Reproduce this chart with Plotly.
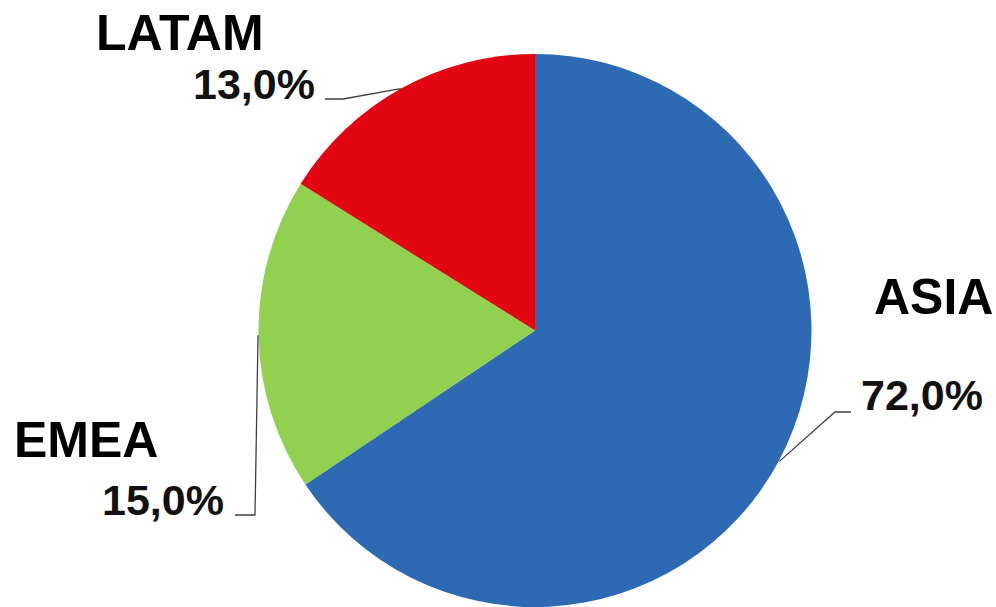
import math
import plotly.graph_objects as go

# Data (slice sizes as drawn, and printed labels)
regions = ["ASIA", "EMEA", "LATAM"]
slice_values = [65.6, 18.3, 16.1]
pct_labels = ["72,0%", "15,0%", "13,0%"]
colors = ["#2E6AB3", "#92D050", "#E20613"]

W, H = 996, 607
CX, CY, R = 535, 331, 277

def px(x):
    return x / W

def py(y):
    return 1 - y / H

fig = go.Figure(go.Pie(
    labels=regions,
    values=slice_values,
    sort=False,
    direction="clockwise",
    rotation=0,
    marker=dict(colors=colors, line=dict(width=0)),
    textinfo="none",
    hoverinfo="label",
    domain=dict(x=[px(CX - R), px(CX + R)], y=[max(0, py(CY + R)), py(CY - R)]),
    showlegend=False,
))

# label layout (pixel positions of texts and leader elbows)
name_pos = {"ASIA": (933, 297), "EMEA": (86, 440), "LATAM": (180, 33)}
pct_pos = {"ASIA": (922, 395), "EMEA": (163, 500), "LATAM": (254, 84)}
elbow = {"ASIA": [(835, 412), (851, 412)],
         "EMEA": [(255, 515), (235, 515)],
         "LATAM": [(343, 99), (325, 99)]}

total = sum(slice_values)
cum = 0
annotations = []
shapes = []
for name, v, lab in zip(regions, slice_values, pct_labels):
    mid = (cum + v / 2) / total * 2 * math.pi
    cum += v
    sx = CX + R * math.sin(mid)
    sy = CY - R * math.cos(mid)
    pts = [(sx, sy)] + elbow[name]
    path = "M " + " L ".join(f"{px(x)},{py(y)}" for x, y in pts)
    shapes.append(dict(type="path", xref="paper", yref="paper", path=path,
                       line=dict(color="#404040", width=1.3)))
    nx, ny = name_pos[name]
    annotations.append(dict(x=px(nx), y=py(ny), xref="paper", yref="paper",
                            text=f"<b>{name}</b>", showarrow=False,
                            xanchor="center", yanchor="middle",
                            font=dict(family="Liberation Sans, Arial", size=50, color="#000")))
    tx, ty = pct_pos[name]
    annotations.append(dict(x=px(tx), y=py(ty), xref="paper", yref="paper",
                            text=f"<b>{lab}</b>", showarrow=False,
                            xanchor="center", yanchor="middle",
                            font=dict(family="Liberation Sans, Arial", size=43, color="#111")))

fig.update_layout(
    width=W, height=H,
    margin=dict(l=0, r=0, t=0, b=0),
    paper_bgcolor="white", plot_bgcolor="white",
    annotations=annotations, shapes=shapes,
)

fig.write_html(
    "out.html",
    config={"displayModeBar": False},
    post_script="document.body.style.margin='0';document.body.style.overflow='hidden';",
)
